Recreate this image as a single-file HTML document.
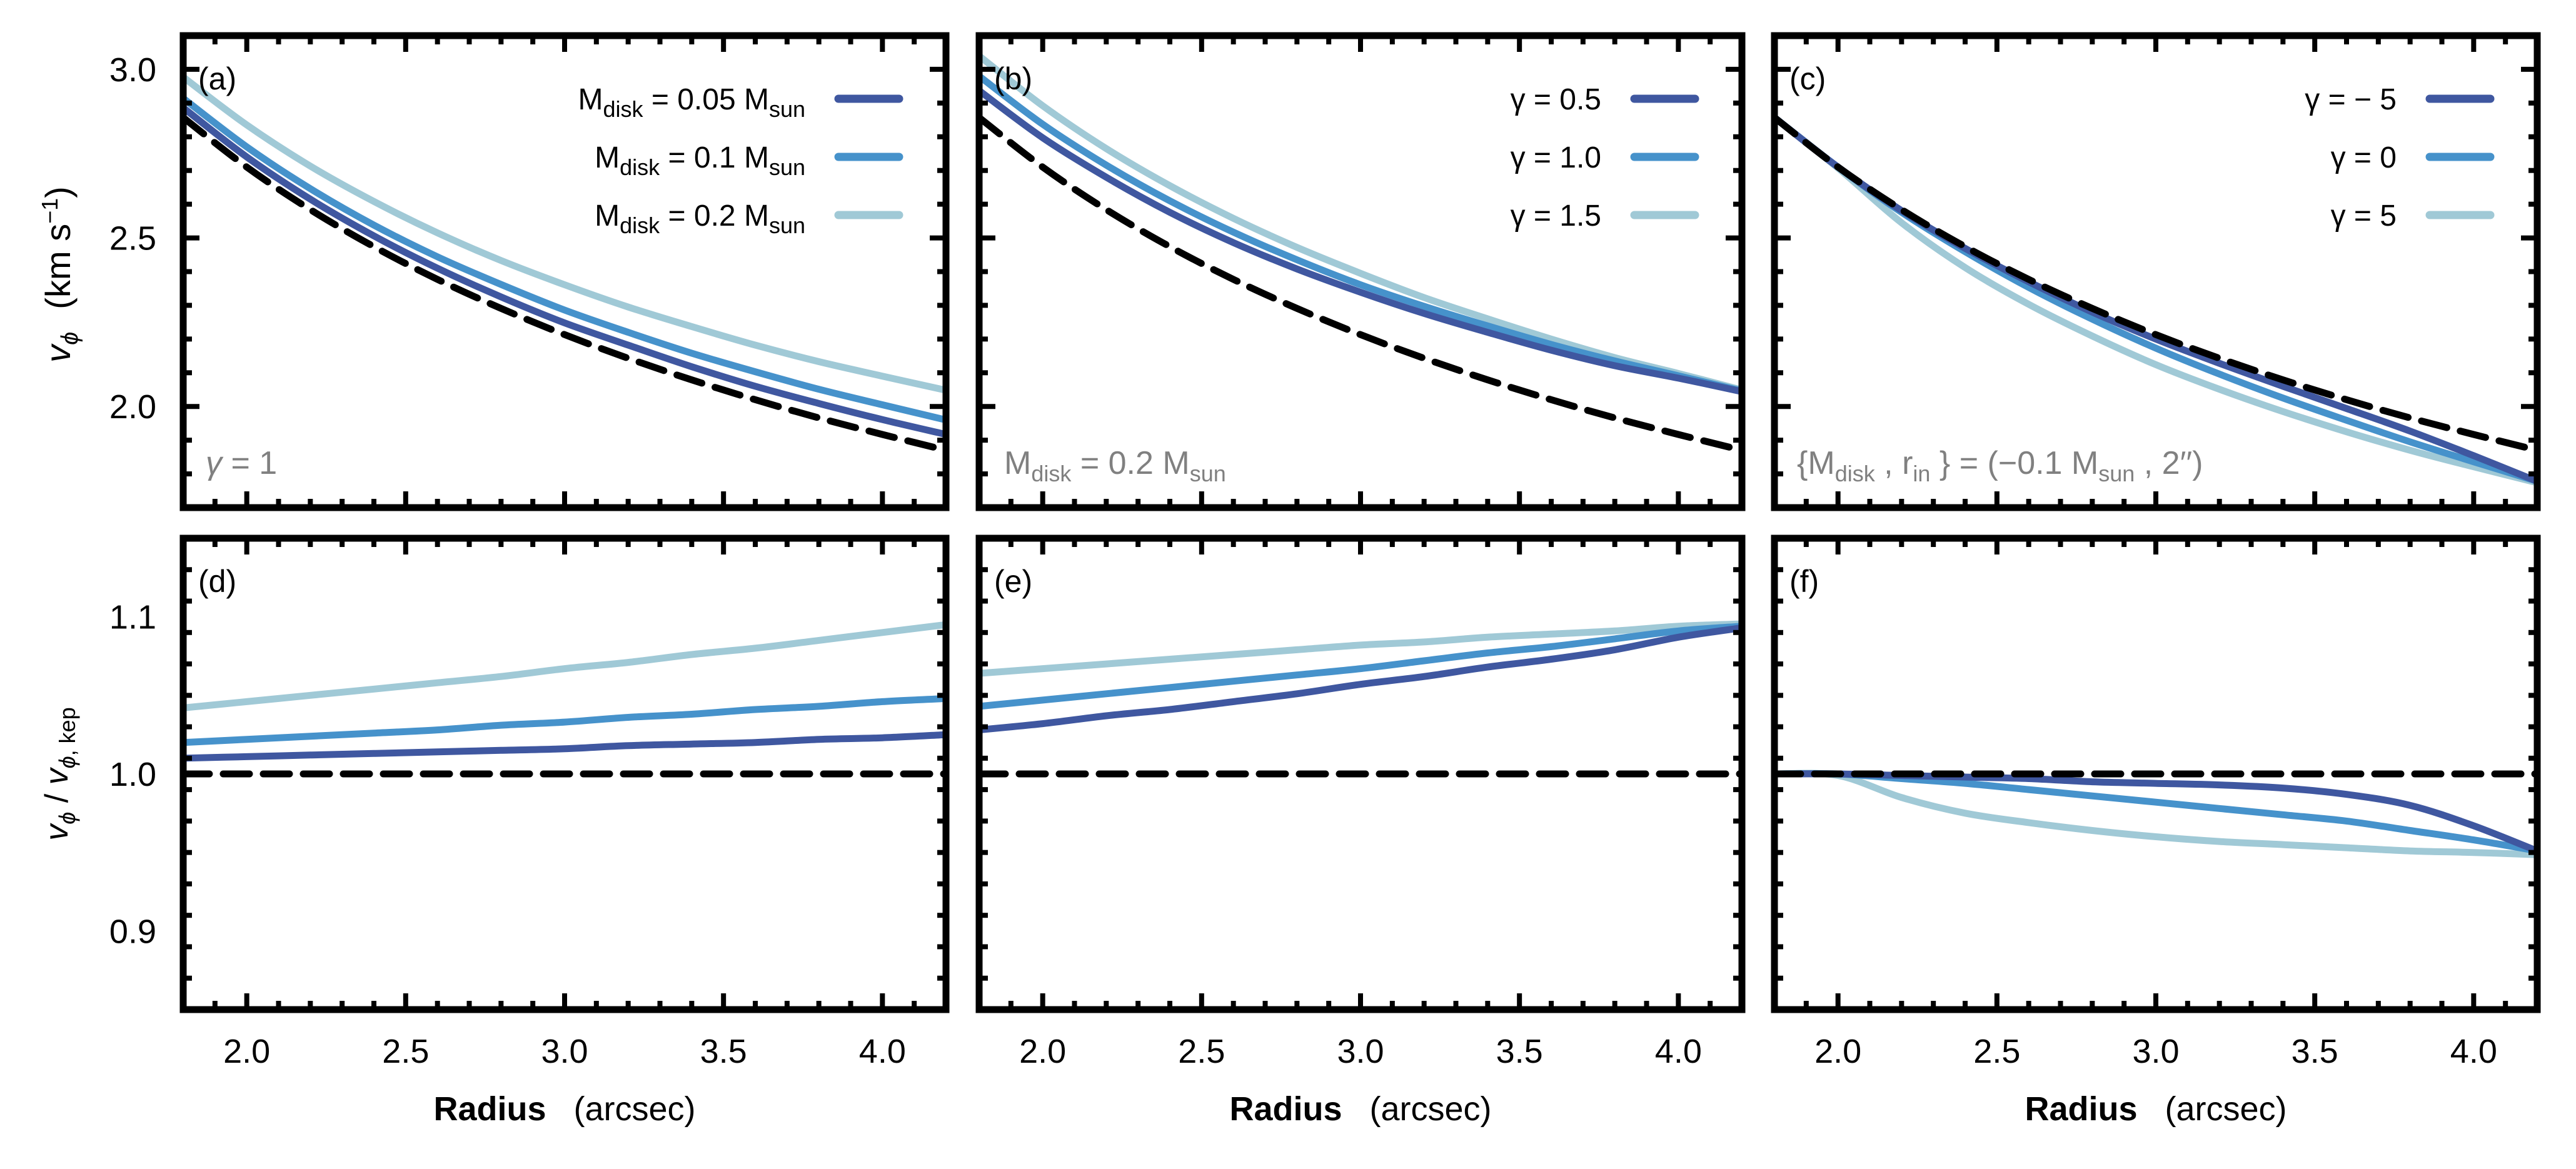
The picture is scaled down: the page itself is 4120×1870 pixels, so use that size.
<!DOCTYPE html>
<html><head><meta charset="utf-8"><style>
html,body{margin:0;padding:0;background:#fff;}
svg{display:block;font-family:"Liberation Sans",sans-serif;}
</style></head><body>
<svg id="fig" width="4120" height="1870" viewBox="0 0 4120 1870" xmlns="http://www.w3.org/2000/svg"></svg>
<script>
const radius = [1.8,2.0,2.2,2.4,2.6,2.8,3.0,3.2,3.4,3.6,3.8,4.0,4.2];
const kepA = [2.857,2.710,2.584,2.474,2.377,2.291,2.213,2.143,2.079,2.020,1.966,1.917,1.870];
const aDark = [2.886,2.740,2.615,2.506,2.410,2.325,2.248,2.182,2.118,2.060,2.009,1.961,1.917];
const aMid = [2.914,2.770,2.646,2.538,2.444,2.362,2.286,2.220,2.158,2.103,2.051,2.005,1.960];
const aLight = [2.977,2.835,2.713,2.608,2.515,2.433,2.361,2.295,2.237,2.182,2.133,2.090,2.048];
const bDark = [2.937,2.797,2.680,2.576,2.486,2.408,2.339,2.276,2.220,2.167,2.121,2.084,2.044];
const bMid = [2.980,2.837,2.716,2.610,2.517,2.435,2.361,2.297,2.239,2.184,2.135,2.091,2.046];
const bLight = [3.040,2.892,2.765,2.655,2.558,2.472,2.395,2.323,2.260,2.200,2.145,2.098,2.049];
const cDark = [2.857,2.710,2.581,2.469,2.370,2.280,2.200,2.128,2.060,1.994,1.927,1.854,1.778];
const cMid = [2.857,2.710,2.576,2.459,2.353,2.259,2.173,2.096,2.025,1.959,1.895,1.836,1.778];
const cLight = [2.857,2.707,2.545,2.412,2.303,2.209,2.124,2.051,1.985,1.925,1.870,1.821,1.774];
const kepRatio = [1,1,1,1,1,1,1,1,1,1,1,1,1];
const dDark = [1.010,1.011,1.012,1.013,1.014,1.015,1.016,1.018,1.019,1.020,1.022,1.023,1.025];
const dMid = [1.020,1.022,1.024,1.026,1.028,1.031,1.033,1.036,1.038,1.041,1.043,1.046,1.048];
const dLight = [1.042,1.046,1.050,1.054,1.058,1.062,1.067,1.071,1.076,1.080,1.085,1.090,1.095];
const eDark = [1.028,1.032,1.037,1.041,1.046,1.051,1.057,1.062,1.068,1.073,1.079,1.087,1.093];
const eMid = [1.043,1.047,1.051,1.055,1.059,1.063,1.067,1.072,1.077,1.081,1.086,1.091,1.094];
const eLight = [1.064,1.067,1.070,1.073,1.076,1.079,1.082,1.084,1.087,1.089,1.091,1.094,1.0955];
const fDark = [1,1,0.999,0.998,0.997,0.995,0.994,0.993,0.991,0.987,0.980,0.967,0.951];
const fMid = [1,1,0.997,0.994,0.990,0.986,0.982,0.978,0.974,0.970,0.964,0.958,0.951];
const fLight = [1,0.999,0.985,0.975,0.969,0.964,0.960,0.957,0.955,0.953,0.951,0.950,0.9486];
const xTicks = ["2.0","2.5","3.0","3.5","4.0"];
const yTicksTop = ["2.0","2.5","3.0"];
const yTicksBot = ["0.9","1.0","1.1"];

const NS="http://www.w3.org/2000/svg";
const svg=document.getElementById('fig');
const COL={dark:"#3f57a0",mid:"#4692cb",light:"#a0c9d6"};
function el(tag,attrs,parent){const e=document.createElementNS(NS,tag);for(const k in attrs)e.setAttribute(k,attrs[k]);(parent||svg).appendChild(e);return e;}
function smoothPath(pts){
  let d="M"+pts[0][0].toFixed(1)+","+pts[0][1].toFixed(1);
  for(let i=0;i<pts.length-1;i++){
    const p0=pts[Math.max(0,i-1)],p1=pts[i],p2=pts[i+1],p3=pts[Math.min(pts.length-1,i+2)];
    const c1=[p1[0]+(p2[0]-p0[0])/6,p1[1]+(p2[1]-p0[1])/6];
    const c2=[p2[0]-(p3[0]-p1[0])/6,p2[1]-(p3[1]-p1[1])/6];
    d+="C"+c1[0].toFixed(1)+","+c1[1].toFixed(1)+" "+c2[0].toFixed(1)+","+c2[1].toFixed(1)+" "+p2[0].toFixed(1)+","+p2[1].toFixed(1);
  }
  return d;
}

const lefts=[293,1566,2838], W=1220;
const rows=[{top:57,bot:812,y0:1.7,y1:3.1,major:0.5,minor:0.1,labels:yTicksTop},
            {top:861,bot:1615,y0:0.85,y1:1.15,major:0.1,minor:0.02,labels:yTicksBot}];
const panels=[
 {r:0,c:0,tag:"(a)",series:[kepA,aDark,aMid,aLight]},
 {r:0,c:1,tag:"(b)",series:[kepA,bDark,bMid,bLight]},
 {r:0,c:2,tag:"(c)",series:[kepA,cDark,cMid,cLight]},
 {r:1,c:0,tag:"(d)",series:[kepRatio,dDark,dMid,dLight]},
 {r:1,c:1,tag:"(e)",series:[kepRatio,eDark,eMid,eLight]},
 {r:1,c:2,tag:"(f)",series:[kepRatio,fDark,fMid,fLight]}];
const names=["keplerian","dark","mid","light"];

panels.forEach((p,pi)=>{
  const R=rows[p.r], L=lefts[p.c], Rt=L+W;
  const g=el('g',{});
  
  
  const sx=v=>L+(v-1.8)/(2.4)*W;
  const sy=v=>R.bot-(v-R.y0)/(R.y1-R.y0)*(R.bot-R.top);
  const clip=el('clipPath',{id:'clip'+pi},g);
  el('rect',{x:L,y:R.top,width:W,height:R.bot-R.top},clip);
  const sg=el('g',{'clip-path':'url(#clip'+pi+')'},g);
  [3,2,1,0].forEach(si=>{
    const vals=p.series[si];
    const pts=vals.map((v,i)=>[sx(radius[i]),sy(v)]);
    const path=el('path',{d:smoothPath(pts),fill:'none','stroke-linejoin':'round'},sg);
    if(si===0){path.setAttribute('stroke','#000');path.setAttribute('stroke-width','11');path.setAttribute('stroke-dasharray','42 22');path.setAttribute('stroke-linecap','round');}
    else {path.setAttribute('stroke',COL[names[si]]);path.setAttribute('stroke-width','11');}
    
    
  });
  for(let v=1.8;v<=4.2001;v+=0.1){
    const x=sx(v); const maj=Math.abs(v*2-Math.round(v*2))<1e-6; const len=maj?26:14;
    el('line',{x1:x,y1:R.top,x2:x,y2:R.top+len,stroke:'#000','stroke-width':8},g);
    el('line',{x1:x,y1:R.bot,x2:x,y2:R.bot-len,stroke:'#000','stroke-width':8},g);
  }
  const nmin=Math.round((R.y1-R.y0)/R.minor);
  for(let k=0;k<=nmin;k++){
    const v=R.y0+k*R.minor; const y=sy(v);
    const maj=Math.abs(v/R.major-Math.round(v/R.major))<1e-6; const len=maj?26:14;
    el('line',{x1:L,y1:y,x2:L+len,y2:y,stroke:'#000','stroke-width':8},g);
    el('line',{x1:Rt,y1:y,x2:Rt-len,y2:y,stroke:'#000','stroke-width':8},g);
  }
  const fr=el('rect',{x:L,y:R.top,width:W,height:R.bot-R.top,fill:'none',stroke:'#000','stroke-width':11},g);
  
  
  const t=el('text',{x:L+24,y:R.top+86,'font-size':50},g); t.textContent=p.tag;
  
  
  if(p.c===0){
    R.labels.forEach(s=>{const v=parseFloat(s);const tt=el('text',{x:250,y:sy(v)+19,'font-size':54,'text-anchor':'end'},g);tt.textContent=s;
      
      });
  }
  if(p.r===1){
    xTicks.forEach(s=>{const v=parseFloat(s);const tt=el('text',{x:sx(v),y:1700,'font-size':54,'text-anchor':'middle'},g);tt.textContent=s;
      
      });
    const at=el('text',{x:L+W/2,y:1792,'font-size':54,'text-anchor':'middle'},g);
    at.innerHTML='<tspan font-weight="bold">Radius</tspan><tspan dx="44">(arcsec)</tspan>';
    
    
  }
});

function legend(L,entries,nm){
  const Rt=L+W; const g=el('g',{});
  
  
  const ys=[158,251,344]; const cols=[COL.dark,COL.mid,COL.light];
  entries.forEach((h,i)=>{
    const t=el('text',{x:Rt-225,y:ys[i]+17,'font-size':48,'text-anchor':'end'},g); t.innerHTML=h;
    
    
    el('line',{x1:Rt-172,y1:ys[i],x2:Rt-75,y2:ys[i],stroke:cols[i],'stroke-width':13,'stroke-linecap':'round'},g);
  });
}
const sub=(s)=>'<tspan dy="12" font-size="36">'+s+'</tspan><tspan dy="-12"> </tspan>';
legend(lefts[0],['M'+sub('disk')+'= 0.05 M'+sub('sun'),'M'+sub('disk')+'= 0.1 M'+sub('sun'),'M'+sub('disk')+'= 0.2 M'+sub('sun')],'legend-a');
legend(lefts[1],['γ = 0.5','γ = 1.0','γ = 1.5'],'legend-b');
legend(lefts[2],['γ = − 5','γ = 0','γ = 5'],'legend-c');

const an=[[lefts[0]+36,'<tspan font-style="italic">γ</tspan> = 1'],
          [lefts[1]+40,'M'+sub('disk')+'= 0.2 M'+sub('sun')],
          [lefts[2]+36,'{M'+sub('disk')+', r'+sub('in')+'} = (−0.1 M'+sub('sun')+', 2′′)']];
an.forEach(a=>{const t=el('text',{x:a[0],y:758,'font-size':52,fill:'#808080'});t.innerHTML=a[1];
  
  });

const y1=el('text',{transform:'translate(112,439) rotate(-90)','font-size':56,'text-anchor':'middle'});
y1.innerHTML='<tspan font-style="italic">v</tspan><tspan dy="12" font-size="38" font-style="italic">ϕ</tspan><tspan dy="-12" dx="36">(km s</tspan><tspan dy="-20" font-size="36">−1</tspan><tspan dy="20">)</tspan>';


const y2=el('text',{transform:'translate(108,1238) rotate(-90)','font-size':52,'text-anchor':'middle'});
y2.innerHTML='<tspan font-style="italic">v</tspan><tspan dy="12" font-size="36" font-style="italic">ϕ</tspan><tspan dy="-12"> / </tspan><tspan font-style="italic">v</tspan><tspan dy="12" font-size="36"><tspan font-style="italic">ϕ</tspan>, kep</tspan>';


</script>
</body></html>
